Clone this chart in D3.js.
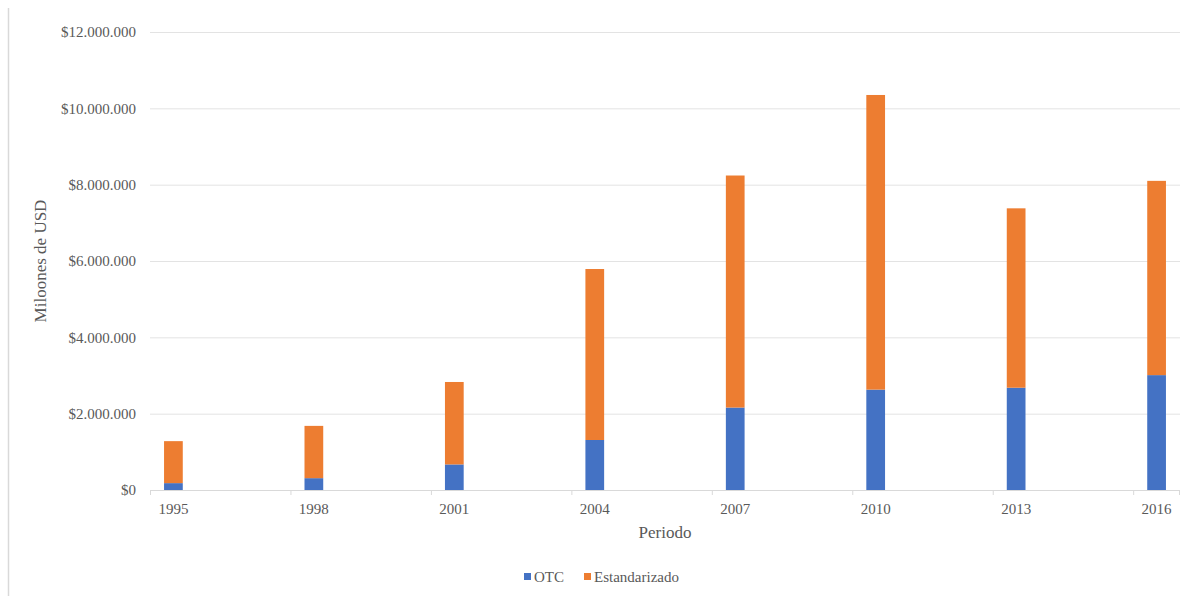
<!DOCTYPE html>
<html>
<head>
<meta charset="utf-8">
<script src="https://cdn.jsdelivr.net/npm/d3@7"></script>
<style>
  html, body { margin: 0; padding: 0; background: #fff; }
  svg { display: block; }
  text { font-family: "Liberation Serif", Tinos, "Times New Roman", "DejaVu Serif", serif !important; fill: #595959; }
</style>
</head>
<body>
<svg id="chart" width="1193" height="596"></svg>
<script>
// ---- Data ----
const years = [1995, 1998, 2001, 2004, 2007, 2010, 2013, 2016];
const otc = [180000, 310000, 670000, 1310000, 2160000, 2630000, 2680000, 3010000];
const estandarizado = [1100000, 1370000, 2160000, 4480000, 6080000, 7720000, 4700000, 5090000];
const yTicks = [0, 2000000, 4000000, 6000000, 8000000, 10000000, 12000000];
const seriesNames = ["OTC", "Estandarizado"];
const colors = ["#4472C4", "#ED7D31"];

// ---- Layout ----
const svg = d3.select("#chart");
const W = 1193, H = 596;
const m = { left: 150, right: 13, top: 32, bottom: 106 };

svg.append("line").attr("x1", 8.5).attr("x2", 8.5).attr("y1", 8).attr("y2", H)
  .attr("stroke", "#d9d9d9").attr("stroke-width", 1.5);

const allYears = d3.range(years[0], years[years.length - 1] + 1);
const x = d3.scaleBand().domain(allYears).range([m.left, W - m.right]).paddingInner(0).paddingOuter(0);
const y = d3.scaleLinear().domain([0, 12000000]).range([H - m.bottom, m.top]);

const fmt = v => "$" + d3.format(",")(v).replace(/,/g, ".");

const yAxis = d3.axisLeft(y).tickValues(yTicks).tickSize(-(W - m.left - m.right)).tickFormat(fmt).tickPadding(14);
const gy = svg.append("g").attr("transform", `translate(${m.left},0)`).call(yAxis);
gy.attr("font-family", null);
gy.select(".domain").remove();
gy.selectAll(".tick line").attr("stroke", "#e3e3e3").attr("stroke-width", 1);
gy.selectAll(".tick text").attr("font-size", "15px").attr("fill", "#595959");

const rows = years.map((yr, i) => ({ year: yr, OTC: otc[i], Estandarizado: estandarizado[i] }));
const stack = d3.stack().keys(seriesNames)(rows);
const bw = x.bandwidth() * 0.4;

svg.append("g").selectAll("g").data(stack).join("g")
  .attr("fill", (d, i) => colors[i])
  .selectAll("rect").data(d => d).join("rect")
  .attr("x", d => x(d.data.year) + x.bandwidth() / 2 - bw / 2)
  .attr("width", bw)
  .attr("y", d => y(d[1]))
  .attr("height", d => y(d[0]) - y(d[1]));

const gx = svg.append("g").attr("transform", `translate(0,${y(0)})`);
gx.append("line").attr("x1", m.left).attr("x2", W - m.right).attr("y1", 0.5).attr("y2", 0.5)
  .attr("stroke", "#d9d9d9");
gx.selectAll("line.tk").data(years).join("line").attr("class", "tk")
  .attr("x1", d => x(d) + 0.5).attr("x2", d => x(d) + 0.5)
  .attr("y1", 0).attr("y2", 5).attr("stroke", "#d9d9d9");
gx.append("line").attr("x1", W - m.right - 0.5).attr("x2", W - m.right - 0.5)
  .attr("y1", 0).attr("y2", 5).attr("stroke", "#d9d9d9");
gx.selectAll("text").data(years).join("text")
  .attr("x", d => x(d) + x.bandwidth() / 2)
  .attr("y", 24)
  .attr("text-anchor", "middle")
  .attr("font-size", "15px")
  .text(d => d);

svg.append("text").attr("x", (m.left + W - m.right) / 2).attr("y", 538)
  .attr("text-anchor", "middle").attr("font-size", "17px").text("Periodo");
svg.append("text").attr("transform", `translate(46,${(m.top + y(0)) / 2}) rotate(-90)`)
  .attr("text-anchor", "middle").attr("font-size", "17px").text("Miloones de USD");

const legend = svg.append("g").attr("transform", "translate(524,577)");
const legItems = [{ name: "OTC", x: 0 }, { name: "Estandarizado", x: 60 }];
legItems.forEach((it, i) => {
  legend.append("rect").attr("x", it.x).attr("y", -4).attr("width", 7).attr("height", 7).attr("fill", colors[i]);
  legend.append("text").attr("x", it.x + 10).attr("y", 5).attr("font-size", "15px").text(it.name);
});
</script>
</body>
</html>
